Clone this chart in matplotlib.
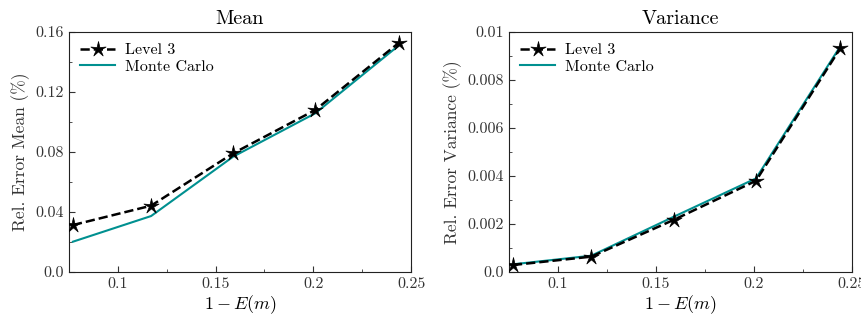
import matplotlib
matplotlib.use("Agg")
import numpy as np
import matplotlib.pyplot as plt
from matplotlib.path import Path
from matplotlib.ticker import MultipleLocator

plt.rcParams['font.family'] = 'serif'
plt.rcParams['font.serif'] = ['cmr10', 'DejaVu Serif']
plt.rcParams['mathtext.fontset'] = 'cm'
plt.rcParams['axes.unicode_minus'] = False

x = [0.077, 0.117, 0.159, 0.201, 0.244]

mean_level3 = [0.0313, 0.0442, 0.0791, 0.108, 0.153]
mean_mc = [0.0202, 0.0373, 0.0769, 0.1058, 0.1513]

var_level3 = [0.00029, 0.00064, 0.00217, 0.0038, 0.00932]
var_mc = [0.00032, 0.00068, 0.0023, 0.0039, 0.0094]

xticks = [0.1, 0.15, 0.2, 0.25]
xticklabels = ['0.1', '0.15', '0.2', '0.25']
mean_yticks = [0.0, 0.04, 0.08, 0.12, 0.16]
mean_yticklabels = ['0.0', '0.04', '0.08', '0.12', '0.16']
var_yticks = [0.0, 0.002, 0.004, 0.006, 0.008, 0.01]
var_yticklabels = ['0.0', '0.002', '0.004', '0.006', '0.008', '0.01']

# thin five-pointed star marker
ang = np.pi / 2 + np.arange(10) * np.pi / 5
rad = np.where(np.arange(10) % 2 == 0, 1.0, 0.3)
verts = np.column_stack([rad * np.cos(ang), rad * np.sin(ang)])
verts = np.vstack([verts, verts[:1]])
star = Path(verts, [Path.MOVETO] + [Path.LINETO] * 9 + [Path.CLOSEPOLY])

fig = plt.figure(figsize=(8.62, 3.23), dpi=100)
ax1 = fig.add_axes([69/862, 1 - 272/323, (411-69)/862, 240/323])
ax2 = fig.add_axes([509/862, 1 - 272/323, (852-509)/862, 240/323])

panels = [
    (ax1, mean_level3, mean_mc, 'Mean', 'Rel. Error Mean (%)', mean_yticks, mean_yticklabels, 0.02),
    (ax2, var_level3, var_mc, 'Variance', 'Rel. Error Variance (%)', var_yticks, var_yticklabels, 0.001),
]

for ax, l3, mc, title, ylabel, yt, ytl, yminor in panels:
    ax.plot(x, mc, color='#009090', lw=1.5, label='Monte Carlo', zorder=2)
    ax.plot(x, l3, color='black', ls='--', lw=1.8, marker=star, ms=11.5, mew=0.5,
            label='Level 3', zorder=3)
    ax.set_xlim(0.075, 0.25)
    ax.set_ylim(yt[0], yt[-1])
    ax.set_xticks(xticks)
    ax.set_xticklabels(xticklabels)
    ax.set_yticks(yt)
    ax.set_yticklabels(ytl)
    ax.xaxis.set_minor_locator(MultipleLocator(0.025))
    ax.yaxis.set_minor_locator(MultipleLocator(yminor))
    ax.tick_params(which='both', direction='in', labelsize=11.5, colors='#333333')
    ax.tick_params(which='major', length=4)
    ax.tick_params(which='minor', length=2)
    ax.set_title(title, fontsize=14.5, pad=6)
    ax.set_xlabel(r'$1 - E(m)$', fontsize=13, labelpad=2)
    ax.set_ylabel(ylabel, fontsize=12.5, color='#333333', labelpad=4)
    for s in ax.spines.values():
        s.set_color('#222222')
    h, lab = ax.get_legend_handles_labels()
    ax.legend(h[::-1], lab[::-1], loc='upper left', frameon=False, fontsize=11.5,
              handlelength=2.2, borderaxespad=0.3, labelspacing=0.15,
              handletextpad=0.6)

fig.savefig('out.png', dpi=100)
